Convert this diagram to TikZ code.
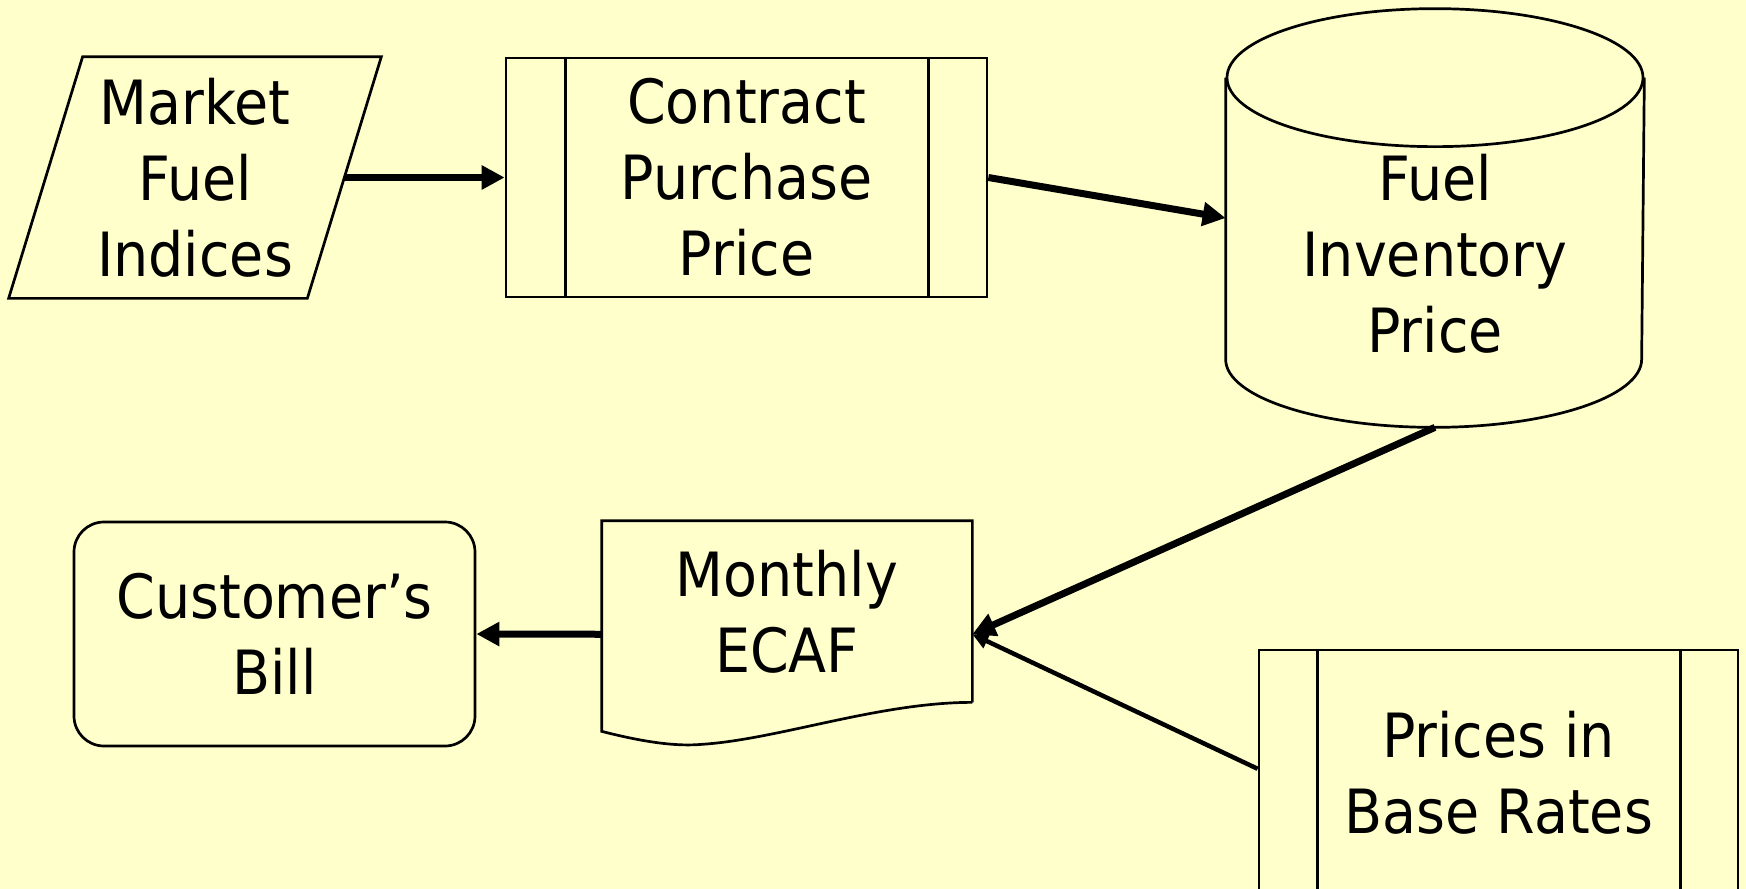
\documentclass[tikz,border=0pt]{standalone}
\usepackage{fontspec}
\setmainfont{DejaVu Sans}[FakeStretch=0.91]
\usetikzlibrary{arrows.meta}
\usetikzlibrary{calc}
\definecolor{slidebg}{RGB}{255,255,204}

\begin{document}
\begin{tikzpicture}[x=1pt,y=-1pt,
    flowtext/.style={align=center,inner sep=0pt,font=\fontsize{61}{76}\selectfont},
    flowbox/.style={flowtext,draw,line width=2.7pt,fill=slidebg},
    flowarrow/.style={line width=7pt,-{Triangle[length=23pt,width=23pt]}},
    thinarrow/.style={line width=4.5pt,-{Triangle[length=16pt,width=15pt]}}]
    % Slide background:
    \fill [slidebg] (0,0) rectangle (1746,889);
    \useasboundingbox (0,0) rectangle (1746,889);
    \clip (0,0) rectangle (1746,889);

    \begin{scope}[line width=2.7pt]
    % Input: parallelogram
    \node [flowtext,minimum width=296,minimum height=239] (mkt) at (195,177.5)
        {Market\\Fuel\\Indices};
    \draw ($(mkt.north west)+(37,0)$) -- ($(mkt.north east)+(37,0)$)
        -- ($(mkt.south east)+(-37,0)$) -- ($(mkt.south west)+(-37,0)$) -- cycle;

    % Predefined processes: box with two side bars
    \node [flowbox,minimum width=481,minimum height=239] (cpp) at (746.5,177.5)
        {Contract\\Purchase\\Price};
    \draw ($(cpp.north west)+(61,0)$) -- ($(cpp.south west)+(61,0)$);
    \draw ($(cpp.north east)+(-60,0)$) -- ($(cpp.south east)+(-60,0)$);

    \node [flowbox,minimum width=479,minimum height=246] (pbr) at (1498.5,773)
        {Prices in\\Base Rates};
    \draw ($(pbr.north west)+(60,0)$) -- ($(pbr.south west)+(60,0)$);
    \draw ($(pbr.north east)+(-59,0)$) -- ($(pbr.south east)+(-59,0)$);

    % Stored data: cylinder
    \node [minimum width=416,minimum height=416,inner sep=0pt,
        label={[flowtext,yshift=-36pt]center:Fuel\\Inventory\\Price}] (fip) at (1435,218) {};
    \draw (fip.north) ++(0,69) ellipse [x radius=208pt,y radius=69pt];
    \draw ($(fip.north west)+(0,69)$) -- ($(fip.south west)+(0,-68)$)
        arc [start angle=180,end angle=360,x radius=208pt,y radius=68pt]
        -- ($(fip.north east)+(0,69)$);

    % Document: wavy bottom edge
    \node [flowtext,minimum width=368,minimum height=179] (ecaf) at (787,611.5)
        {Monthly\\ECAF};
    \draw (ecaf.south east) -- (ecaf.north east) -- (ecaf.north west)
        -- ($(ecaf.south west)+(0,29)$)
        .. controls ($(ecaf.south west)+(47,41)$) and ($(ecaf.south west)+(77,44)$)
        .. ($(ecaf.south west)+(100,42)$)
        .. controls ($(ecaf.south west)+(177,37)$) and ($(ecaf.south west)+(277,0)$)
        .. (ecaf.south east);

    % Terminal: rounded box
    \node [flowbox,rounded corners=30pt,minimum width=401,minimum height=224] (bill)
        at (274.5,634) {Customer’s\\Bill};
    \end{scope}

    % Arrows:
    \draw [flowarrow] (mkt.east) -- (cpp.west);
    \draw [flowarrow] (cpp.east) -- (fip.west);
    \draw [thinarrow] (pbr.179.3) -- (ecaf.-7);
    \draw [flowarrow] (fip.south) -- (ecaf.-7);
    \draw [flowarrow] (ecaf.187) -- (bill.east);
\end{tikzpicture}
\end{document}
